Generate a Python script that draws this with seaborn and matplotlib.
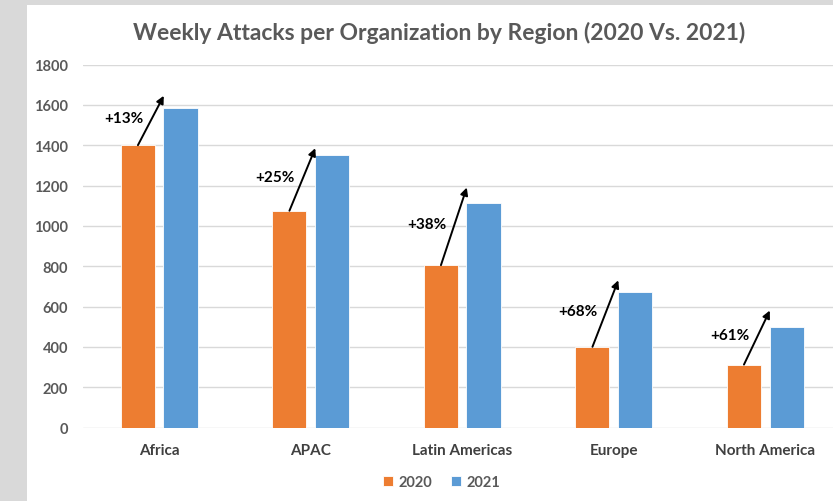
import pandas as pd
import matplotlib.pyplot as plt
import seaborn as sns
from matplotlib.patches import Rectangle

regions = ["Africa", "APAC", "Latin Americas", "Europe", "North America"]
attacks_2020 = [1400, 1075, 805, 400, 312]
attacks_2021 = [1583, 1350, 1115, 670, 500]
pct_labels = ["+13%", "+25%", "+38%", "+68%", "+61%"]
# where the hand-drawn arrows end (value axis)
arrow_tips = [1645, 1385, 1190, 730, 580]
years = ["2020", "2021"]
palette = {"2020": "#ED7D31", "2021": "#5B9BD5"}

df = pd.DataFrame({
    "region": regions * 2,
    "year": [years[0]] * len(regions) + [years[1]] * len(regions),
    "attacks": attacks_2020 + attacks_2021,
})

sns.set_theme(style="white")
plt.rcParams["font.family"] = ["Lato", "DejaVu Sans"]
grey = "#595959"

fig = plt.figure(figsize=(8.33, 5.02), dpi=100, facecolor="#d9d9d9")
# white chart area, the grey strip on the left/top is the page behind it
fig.add_artist(Rectangle((27 / 833, 0), 1, 1 - 6 / 502, transform=fig.transFigure,
                         facecolor="white", edgecolor="none", zorder=0))
ax = fig.add_axes([0.1002, 0.1464, 0.9094, 0.7231])

sns.barplot(data=df, x="region", y="attacks", hue="year", palette=palette,
            width=0.562, gap=0.2, order=regions, hue_order=years,
            edgecolor="white", linewidth=0.6, saturation=1, ax=ax, legend=True)

ax.set_xlim(-0.5, 4.5)
ax.set_ylim(0, 1800)
ax.set_yticks(range(0, 1801, 200))
ax.yaxis.grid(True, color="#d9d9d9", linewidth=1)
ax.set_axisbelow(True)
for s in ax.spines.values():
    s.set_visible(False)
ax.set_xlabel("")
ax.set_ylabel("")
ax.tick_params(axis="y", length=0, pad=11, labelsize=10.5, labelcolor=grey)
ax.tick_params(axis="x", length=0, pad=11.5, labelsize=11, labelcolor="#404040")
for lbl in ax.get_yticklabels() + ax.get_xticklabels():
    lbl.set_fontweight("bold")

# growth arrows from the top of each 2020 bar
for i, bar in enumerate(ax.containers[0]):
    x0 = bar.get_x() + bar.get_width() / 2
    y0 = bar.get_height()
    x1, y1 = i + 0.03, arrow_tips[i]
    ax.annotate("", xy=(x1, y1), xytext=(x0, y0),
                arrowprops=dict(arrowstyle="-|>", color="black", lw=1.4,
                                mutation_scale=11, shrinkA=0, shrinkB=0))
    ax.annotate(pct_labels[i], xy=((x0 + x1) / 2, (y0 + y1) / 2),
                xytext=(-19.5, 2), textcoords="offset points",
                ha="center", va="center", fontsize=11, fontweight="bold", color="black")

fig.text(439 / 833, 1 - 33 / 502,
         "Weekly Attacks per Organization by Region (2020 Vs. 2021)",
         ha="center", va="center", fontsize=16.5, fontweight="bold", color=grey)

leg = ax.legend(loc="center", bbox_to_anchor=(442 / 833, 1 - 483 / 502),
                bbox_transform=fig.transFigure, ncol=2, frameon=False,
                handlelength=0.65, handleheight=0.65, handletextpad=0.4,
                columnspacing=1.3, prop={"weight": "bold", "size": 10.5})
for t in leg.get_texts():
    t.set_color(grey)

fig.savefig("out.png", dpi=100, facecolor=fig.get_facecolor())
